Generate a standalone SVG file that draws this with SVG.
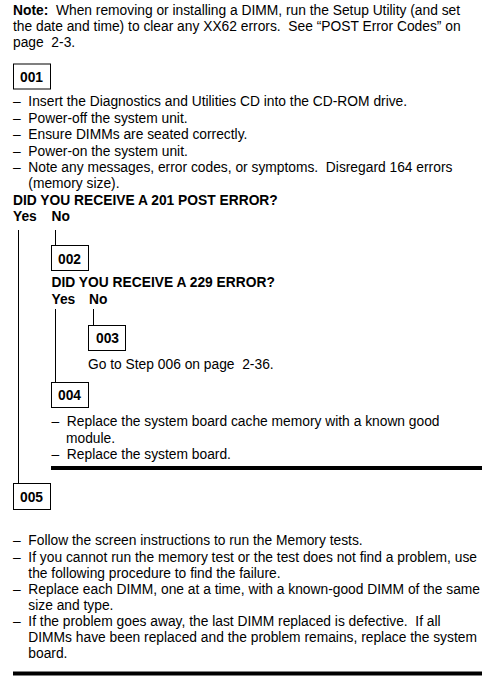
<svg xmlns="http://www.w3.org/2000/svg" width="488" height="680" viewBox="0 0 488 680">
<style>
text{font-family:"Liberation Sans",Arial,sans-serif;font-size:13.8px;fill:#000;white-space:pre}
.b{font-weight:bold}
.box{fill:none;stroke:#000;stroke-width:1}
.ln{stroke:#000;stroke-width:1;fill:none}
</style>
<rect width="488" height="680" fill="#fff"/>
<g id="note">
<text x="13" y="15"><tspan class="b">Note:</tspan>  When removing or installing a DIMM, run the Setup Utility (and set</text>
<text x="13" y="31">the date and time) to clear any XX62 errors.  See “POST Error Codes” on</text>
<text x="13" y="47">page  2-3.</text>
</g>
<g id="connectors">
<line class="ln" x1="18.5" y1="230" x2="18.5" y2="483.5"/>
<line class="ln" x1="55.5" y1="230" x2="55.5" y2="245.5"/>
<line class="ln" x1="55.5" y1="309" x2="55.5" y2="382.5"/>
<line class="ln" x1="93.5" y1="309" x2="93.5" y2="325.5"/>
</g>
<g id="step001">
<rect class="box" x="13.5" y="64" width="37" height="25"/>
<text class="b" x="20" y="82">001</text>
<text x="13" y="106">–  Insert the Diagnostics and Utilities CD into the CD-ROM drive.</text>
<text x="13" y="122.5">–  Power-off the system unit.</text>
<text x="13" y="139">–  Ensure DIMMs are seated correctly.</text>
<text x="13" y="155.5">–  Power-on the system unit.</text>
<text x="13" y="172">–  Note any messages, error codes, or symptoms.  Disregard 164 errors</text>
<text x="28.3" y="188">(memory size).</text>
<text class="b" x="13" y="204.5">DID YOU RECEIVE A 201 POST ERROR?</text>
<text class="b" x="13" y="220.5">Yes</text>
<text class="b" x="51.5" y="220.5">No</text>
</g>
<g id="step002">
<rect class="box" x="51.5" y="245.5" width="37" height="25"/>
<text class="b" x="58" y="263.5">002</text>
<text class="b" x="51.5" y="287">DID YOU RECEIVE A 229 ERROR?</text>
<text class="b" x="51.5" y="304">Yes</text>
<text class="b" x="89" y="304">No</text>
</g>
<g id="step003">
<rect class="box" x="88.5" y="325.5" width="37" height="25"/>
<text class="b" x="96" y="343">003</text>
<text x="88" y="368.5">Go to Step 006 on page  2-36.</text>
</g>
<g id="step004">
<rect class="box" x="51.5" y="382.5" width="37" height="25"/>
<text class="b" x="58" y="400">004</text>
<text x="51.5" y="426">–  Replace the system board cache memory with a known good</text>
<text x="66" y="442.5">module.</text>
<text x="51.5" y="458.5">–  Replace the system board.</text>
<rect x="51" y="466" width="431" height="4" fill="#000"/>
</g>
<g id="step005">
<rect class="box" x="13.5" y="483.5" width="37" height="26"/>
<text class="b" x="20" y="501.5">005</text>
<text x="13" y="545">–  Follow the screen instructions to run the Memory tests.</text>
<text x="13" y="561.5">–  If you cannot run the memory test or the test does not find a problem, use</text>
<text x="28.3" y="577.5">the following procedure to find the failure.</text>
<text x="13" y="593.5">–  Replace each DIMM, one at a time, with a known-good DIMM of the same</text>
<text x="28.3" y="609.5">size and type.</text>
<text x="13" y="626">–  If the problem goes away, the last DIMM replaced is defective.  If all</text>
<text x="28.3" y="642">DIMMs have been replaced and the problem remains, replace the system</text>
<text x="28.3" y="658">board.</text>
<rect x="13" y="671.5" width="469" height="4" fill="#000"/>
</g>
</svg>
